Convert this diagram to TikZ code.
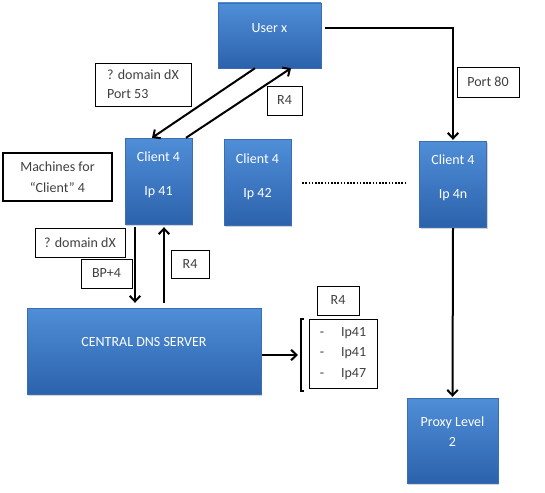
\documentclass[tikz,border=0pt]{standalone}
\usepackage{fontspec}
\setmainfont{Carlito}
\usetikzlibrary{arrows.meta}
\usetikzlibrary{shadows}

\definecolor{boxtop}{RGB}{80,142,216}
\definecolor{boxbot}{RGB}{44,98,172}
\definecolor{boxline}{RGB}{58,110,180}

\tikzset{
  bluebox/.style={draw=boxline, line width=0.4pt, top color=boxtop, bottom color=boxbot,
    drop shadow={shadow xshift=1.2pt, shadow yshift=-1.5pt, opacity=0.35},
    text=white, align=center, inner sep=0pt},
  clientbox/.style={bluebox, minimum width=67pt, minimum height=86pt, text height=40pt, text depth=11pt},
  tagbox/.style={draw, fill=white, line width=0.6pt, text=black!75, inner sep=0pt, align=center},
  flow/.style={line width=2pt, -{Straight Barb[length=5.5pt,width=10.5pt]}},
}

\begin{document}
\begin{tikzpicture}[x=1pt,y=-1pt,font=\fontsize{14}{17}\selectfont]
      \useasboundingbox (0,0) rectangle (545,492);

      % user and the client machines
      \node[bluebox, minimum width=103pt, minimum height=65pt, text height=10pt, text depth=16pt] (user) at (269.5,35.5) {User x};
      \node[clientbox] (c41) at (158.5,181) {Client 4\\[17pt]Ip 41};
      \node[clientbox] (c42) at (257.5,182.5) {Client 4\\[17pt]Ip 42};
      \node[clientbox] (c4n) at (453,184) {Client 4\\[17pt]Ip 4n};

      % dns server and proxy
      \node[bluebox, minimum width=234pt, minimum height=86pt, text height=10pt, text depth=19pt] (dns) at (144,351) {CENTRAL DNS SERVER};
      \node[bluebox, minimum width=91pt, minimum height=85pt, text height=30pt, text depth=18pt] (proxy) at (452.5,440.5) {Proxy Level\\[3pt]2};

      % text boxes
      \node[tagbox, minimum width=96pt, minimum height=43pt, align=left] (q53) at (143,84.5) {? domain dX\\[2pt]Port 53};
      \node[tagbox, minimum width=35pt, minimum height=29pt] (r4a) at (284.5,100.5) {R4};
      \node[tagbox, minimum width=62pt, minimum height=30pt] (port80) at (488,82) {Port 80};
      \node[tagbox, minimum width=109pt, minimum height=48pt, line width=1.8pt] (machines) at (57.5,177) {Machines for\\[4pt]``Client'' 4};
      \node[tagbox, minimum width=90pt, minimum height=29pt] (qdx) at (80,242.5) {? domain dX};
      \node[tagbox, minimum width=51pt, minimum height=29pt] (bp4) at (106.5,273.5) {BP+4};
      \node[tagbox, minimum width=38pt, minimum height=28pt] (r4b) at (190,264) {R4};
      \node[tagbox, minimum width=42pt, minimum height=29pt] (r4c) at (338,300.5) {R4};
      \node[tagbox, minimum width=68pt, minimum height=69pt, align=left] (lst) at (343,353.5)
        {-\hspace{17pt}Ip41\\[3.5pt]-\hspace{17pt}Ip41\\[3.5pt]-\hspace{17pt}Ip47};

      % user <-> client 41
      \draw[flow] ([xshift=-14.5pt]user.south) -- ([xshift=-6.5pt]c41.north);
      \draw[flow] ([xshift=27.5pt]c41.north) -- ([xshift=21.5pt]user.south);

      % user -> client 4n -> proxy
      \draw[flow, shorten >=1pt] ([xshift=4pt,yshift=7.5pt]user.east) -| (c4n.north);
      \draw[flow, shorten <=1pt, shorten >=1pt] (c4n.south) -- (proxy.north);

      % client 41 <-> dns
      \coordinate (qin) at ([xshift=-23.5pt]c41.south);
      \coordinate (ain) at ([xshift=5.5pt]c41.south);
      \draw[flow, shorten <=3pt, shorten >=5pt] (qin) -- (qin |- dns.north);
      \draw[flow, shorten <=5pt, shorten >=3pt] (ain |- dns.north) -- (ain);

      % dots between clients
      \coordinate (dotstart) at ([xshift=11pt]c42.east);
      \coordinate (dotend) at ([xshift=-13pt]c4n.west);
      \draw[line width=2pt, dash pattern=on 1.6pt off 1.6pt] (dotstart) -- (dotstart -| dotend);

      % dns -> answer list
      \coordinate (brktop) at (301,319);
      \coordinate (brkbot) at (301,391);
      \coordinate (dnsout) at ([xshift=1pt,yshift=-4pt]dns.east);
      \draw[flow, shorten >=3pt] (dnsout) -- (dnsout -| brktop);
      \draw[line width=2pt] ([xshift=3pt]brktop) -- (brktop) -- (brkbot) -- ([xshift=3pt]brkbot);
    \end{tikzpicture}
\end{document}
